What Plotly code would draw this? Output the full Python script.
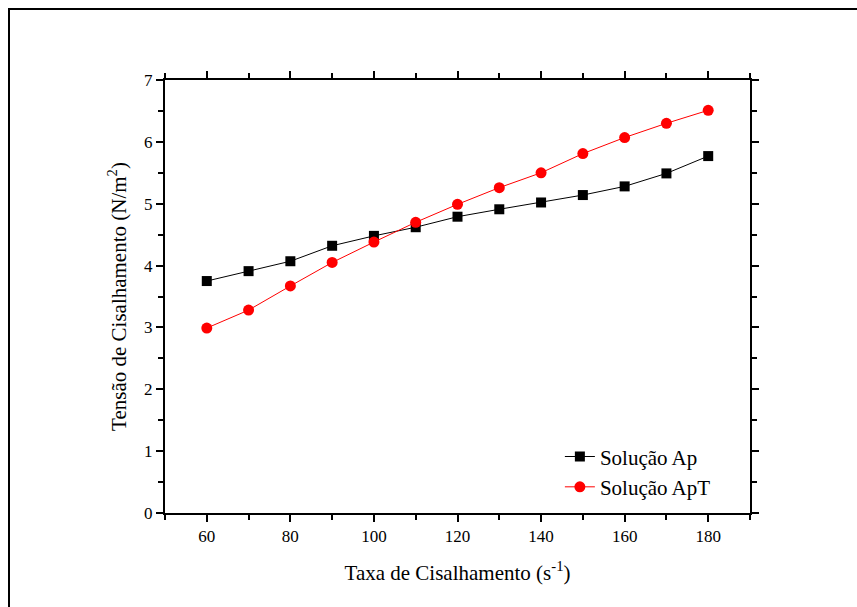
import plotly.graph_objects as go

shear_rate = [60, 70, 80, 90, 100, 110, 120, 130, 140, 150, 160, 170, 180]
stress_ap = [3.75, 3.91, 4.07, 4.32, 4.48, 4.62, 4.79, 4.91, 5.02, 5.14, 5.28, 5.49, 5.77]
stress_apt = [2.99, 3.28, 3.67, 4.05, 4.38, 4.70, 4.99, 5.26, 5.50, 5.81, 6.07, 6.30, 6.51]
x_ticks = [60, 80, 100, 120, 140, 160, 180]
y_ticks = [0, 1, 2, 3, 4, 5, 6, 7]

FONT = "Liberation Serif"

fig = go.Figure()
fig.add_trace(go.Scatter(
    x=shear_rate, y=stress_ap, mode="lines+markers", name="Solução Ap",
    line=dict(color="black", width=1),
    marker=dict(symbol="square", size=10, color="black"),
))
fig.add_trace(go.Scatter(
    x=shear_rate, y=stress_apt, mode="lines+markers", name="Solução ApT",
    line=dict(color="red", width=1),
    marker=dict(symbol="circle", size=11, color="red"),
))

axis_common = dict(
    showgrid=False, zeroline=False, showline=True, linecolor="black", linewidth=2,
    mirror="ticks", ticks="outside", ticklen=7, tickwidth=1.5, tickcolor="black",
    tickfont=dict(family=FONT, size=17, color="black"),
)

fig.update_layout(
    width=857, height=607,
    margin=dict(l=165, r=107, t=80, b=94),
    paper_bgcolor="white", plot_bgcolor="white",
    font=dict(family=FONT, color="black"),
    showlegend=True,
    legend=dict(x=0.675, y=0.095, xanchor="left", yanchor="middle",
                bgcolor="rgba(0,0,0,0)", font=dict(family=FONT, size=21, color="black"),
                tracegroupgap=0, itemwidth=30),
    xaxis=dict(range=[50, 190], tickvals=x_ticks,
               minor=dict(dtick=10, tick0=50, ticks="outside", ticklen=5, tickwidth=1.5, tickcolor="black"),
               title=dict(text="Taxa de Cisalhamento (s<sup>-1</sup>)", font=dict(family=FONT, size=21), standoff=20),
               **axis_common),
    yaxis=dict(range=[0, 7], tickvals=y_ticks,
               minor=dict(dtick=0.5, tick0=0, ticks="outside", ticklen=5, tickwidth=1.5, tickcolor="black"),
               title=dict(text="Tensão de Cisalhamento (N/m<sup>2</sup>)", font=dict(family=FONT, size=21), standoff=12),
               **axis_common),
)

fig.add_shape(type="rect", xref="paper", yref="paper",
              x0=(9 - 165) / 585, x1=(870 - 165) / 585,
              y0=(513 - 620) / 433, y1=(513 - 9) / 433,
              line=dict(color="black", width=2), fillcolor="rgba(0,0,0,0)", layer="below")

fig.write_html("out.html")
